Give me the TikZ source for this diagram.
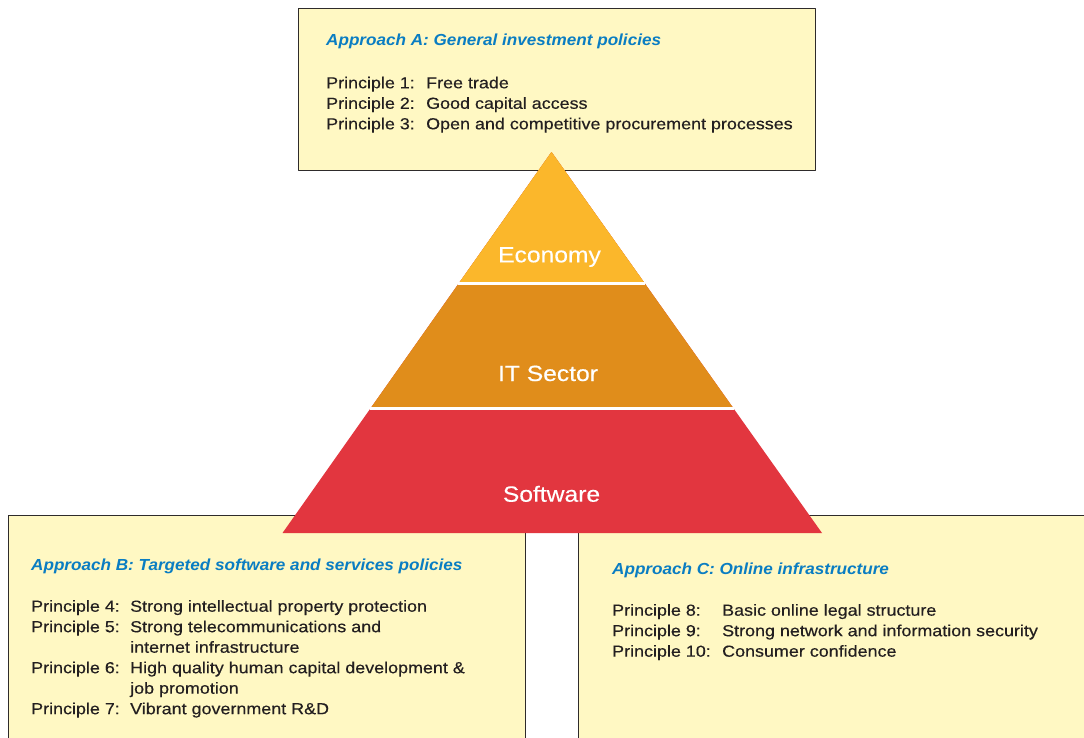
\documentclass[tikz,border=0pt]{standalone}
\usepackage{fontspec}
\setmainfont[FakeStretch=1.12, FakeBold=0.35]{Liberation Sans}
\newfontfamily\headfont[FakeStretch=1.07]{Liberation Sans}
\usetikzlibrary{calc}
\definecolor{boxfill}{HTML}{FFF8C3}
\definecolor{boxline}{HTML}{2E2B2B}
\definecolor{headblue}{HTML}{0A7DC2}
\definecolor{textdark}{HTML}{231F20}
\definecolor{economy}{HTML}{FBB72B}
\definecolor{itsector}{HTML}{E08D1B}
\definecolor{software}{HTML}{E2363F}

\begin{document}
\begin{tikzpicture}[x=1pt, y=-1pt, line cap=round, line join=round,
	policybox/.style={draw=boxline, fill=boxfill, line width=1.4pt, anchor=north west, inner sep=0pt},
	heading/.style={anchor=base west, inner sep=0pt, text=headblue, font=\headfont\fontsize{16}{20.5}\selectfont\bfseries\itshape},
	principles/.style={anchor=base west, inner sep=0pt, text=textdark, font=\fontsize{16}{20.5}\selectfont},
	layer/.style={anchor=base, inner sep=0pt, text=white, font=\fontsize{22}{26}\selectfont}]
	\useasboundingbox (0,0) rectangle (1084,737);
	\clip (0,0) rectangle (1084,737);
	% approach boxes
	\node[policybox, minimum width=517pt, minimum height=162pt] (boxA) at (298,8) {};
	\node[policybox, minimum width=517pt, minimum height=240pt] (boxB) at (8,515) {};
	\node[policybox, minimum width=530pt, minimum height=240pt] (boxC) at (578,515) {};
	\node[heading] (headA) at (326,45.7) {Approach A: General investment policies};
	\node[principles] (listA) at (326,88.3) {\begin{tabular}[t]{@{}p{100pt}@{}l@{}}
		Principle 1: & Free trade\\
		Principle 2: & Good capital access\\
		Principle 3: & Open and competitive procurement processes
	\end{tabular}};
	\node[heading] (headB) at (31,570.5) {Approach B: Targeted software and services policies};
	\node[principles] (listB) at (31,611.7) {\begin{tabular}[t]{@{}p{99pt}@{}l@{}}
		Principle 4: & Strong intellectual property protection\\
		Principle 5: & Strong telecommunications and\\
		& internet infrastructure\\
		Principle 6: & High quality human capital development \&\\
		& job promotion\\
		Principle 7: & Vibrant government R\&D
	\end{tabular}};
	\node[heading] (headC) at (612,574) {Approach C: Online infrastructure};
	\node[principles] (listC) at (612,615.7) {\begin{tabular}[t]{@{}p{110pt}@{}l@{}}
		Principle 8: & Basic online legal structure\\
		Principle 9: & Strong network and information security\\
		Principle 10: & Consumer confidence
	\end{tabular}};
	% pyramid
	\coordinate (apex) at (551.5,152);
	\coordinate (baseL) at (282.5,533);
	\coordinate (baseR) at (822,533);
	\fill[software] (apex) -- (baseL) -- (baseR) -- cycle;
	\fill[itsector] (apex) -- ($(apex)!0.674!(baseL)$) -- ($(apex)!0.674!(baseR)$) -- cycle;
	\fill[economy] (apex) -- ($(apex)!0.346!(baseL)$) -- ($(apex)!0.346!(baseR)$) -- cycle;
	\draw[white, line width=3pt, line cap=butt] ($(apex)!0.346!(baseL)$) -- ($(apex)!0.346!(baseR)$);
	\draw[white, line width=3pt, line cap=butt] ($(apex)!0.674!(baseL)$) -- ($(apex)!0.674!(baseR)$);
	\node[layer] (econ) at (549.5,262.3) {Economy};
	\node[layer] (itsec) at (548,381) {IT Sector};
	\node[layer] (soft) at (551.5,501.7) {Software};
\end{tikzpicture}
\end{document}
